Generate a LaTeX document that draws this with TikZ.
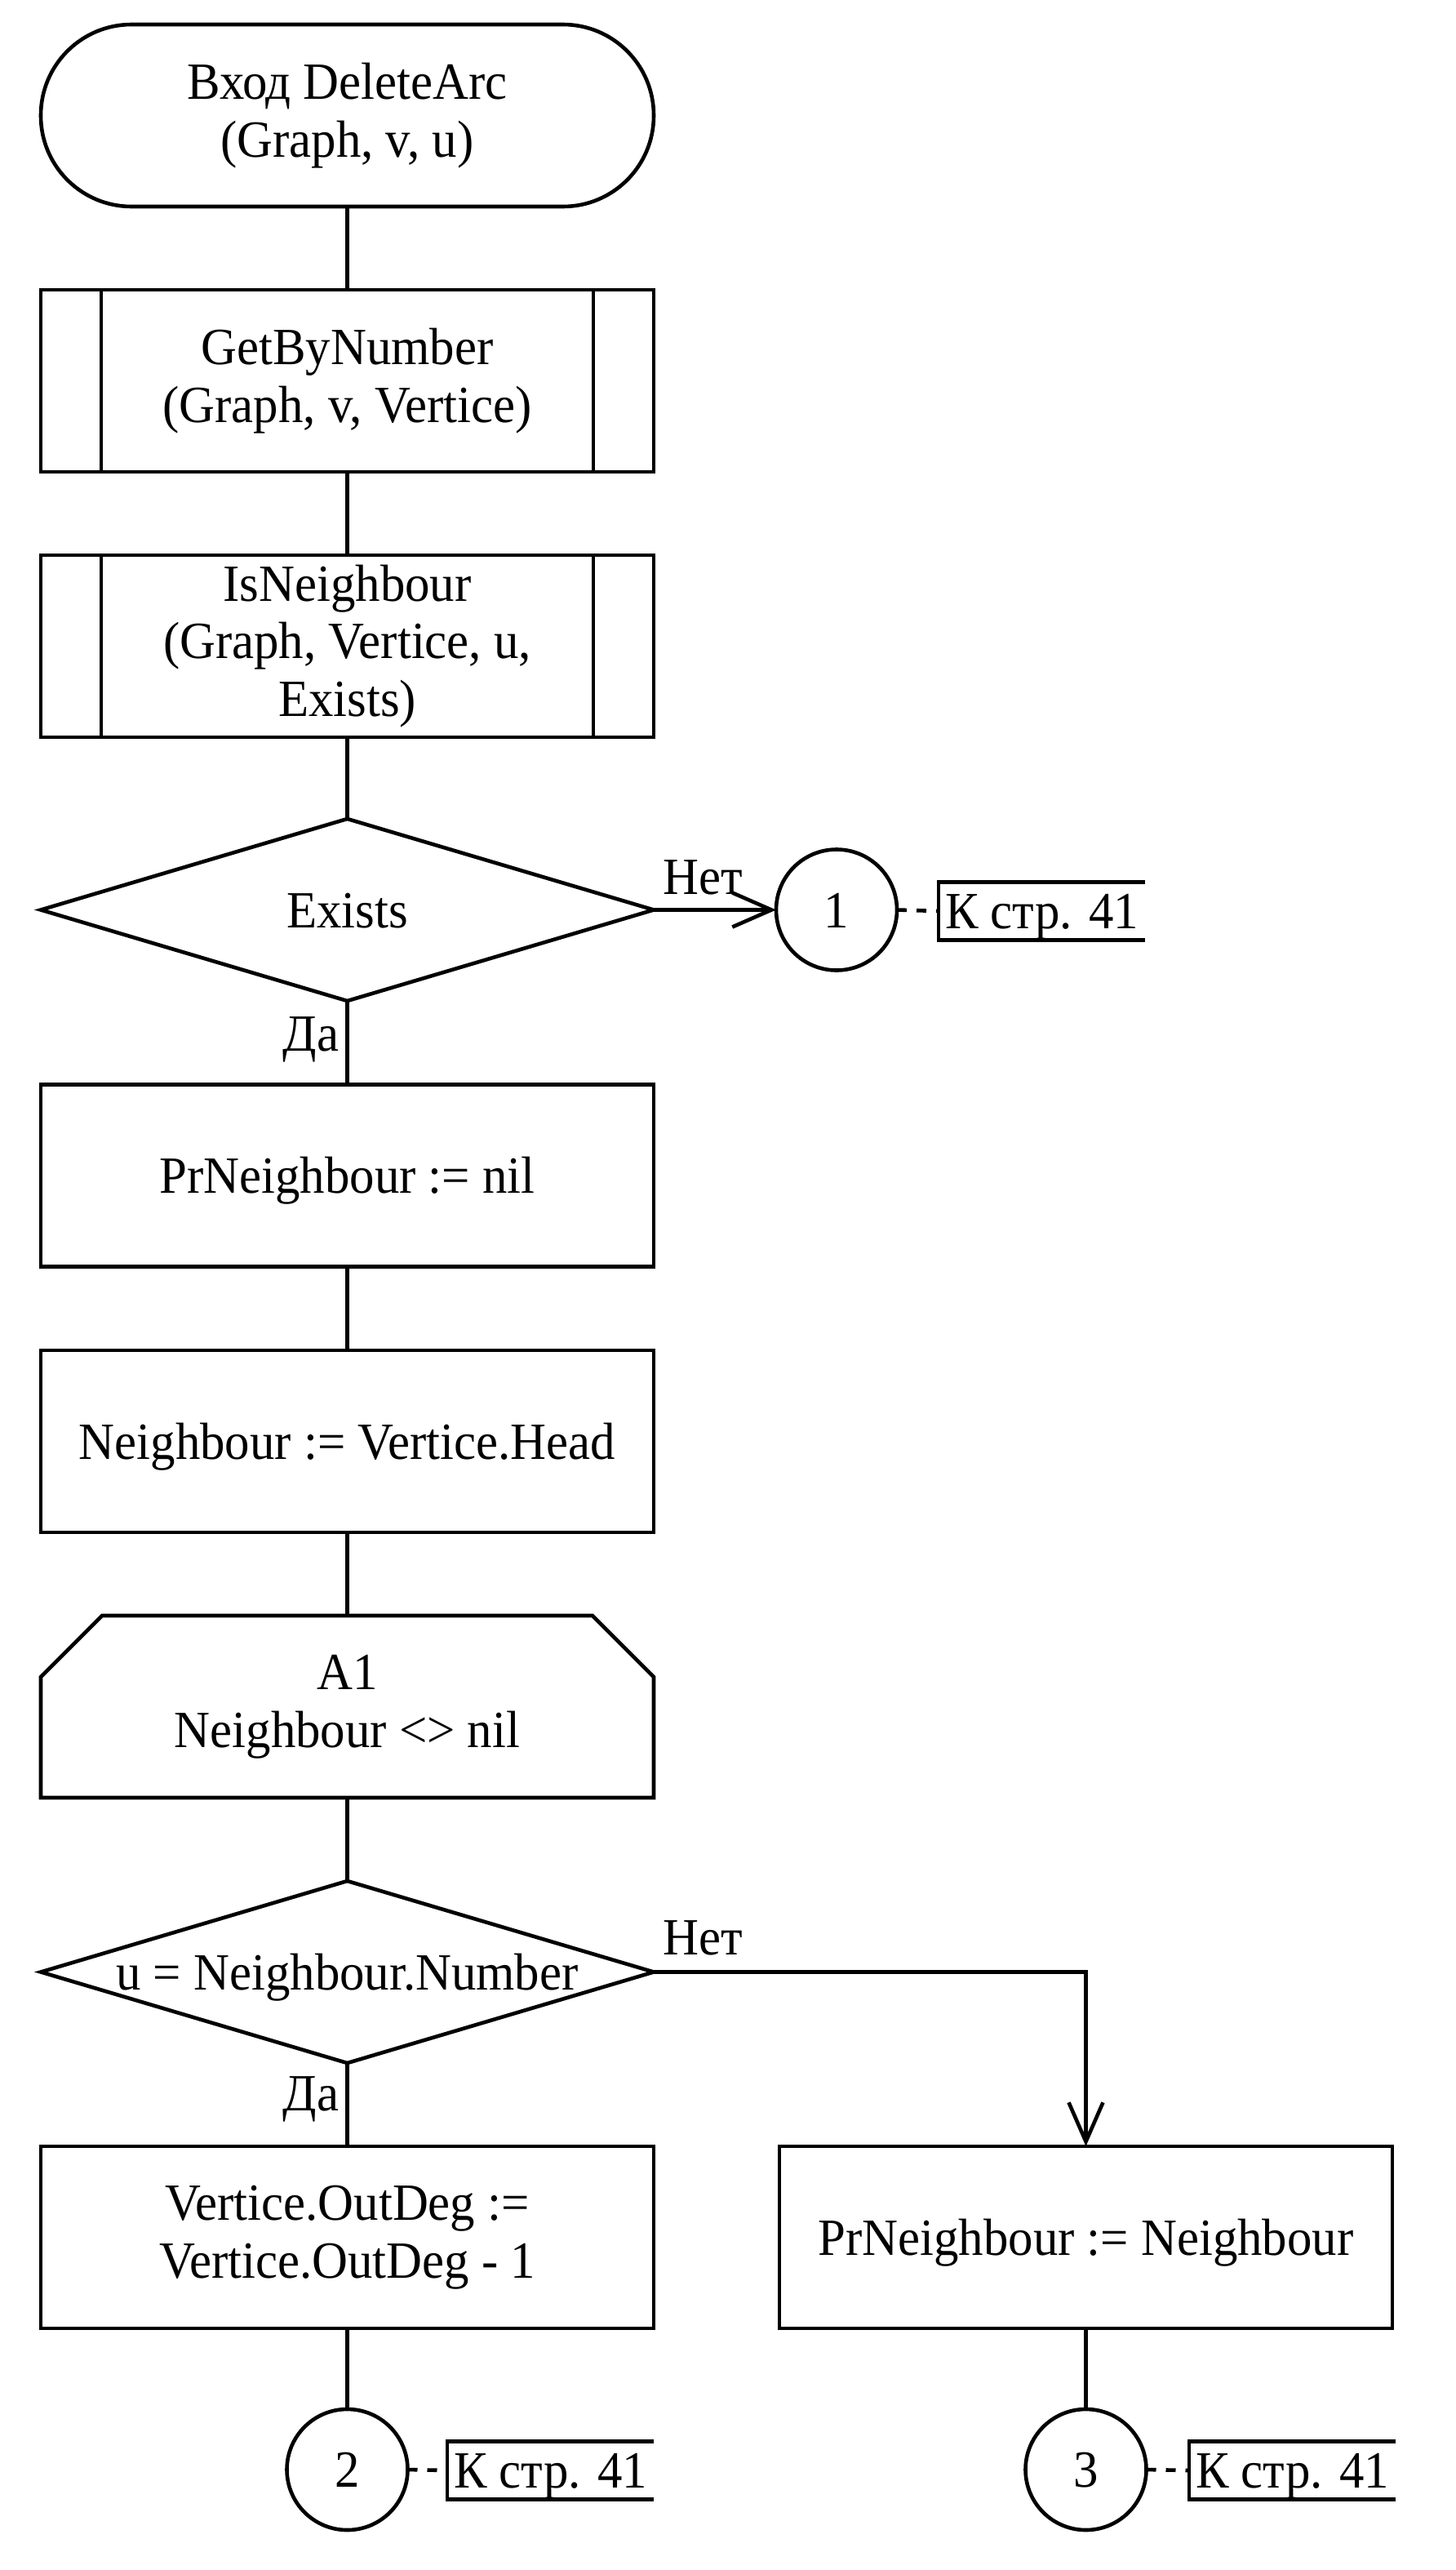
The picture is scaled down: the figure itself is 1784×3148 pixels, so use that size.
\documentclass[tikz,border=0pt]{standalone}
\usepackage{fontspec}
\setmainfont{Liberation Serif}[FakeStretch=0.95]
\usetikzlibrary{shapes.geometric,arrows.meta,calc}
\newcommand\mainsize{\fontsize{16pt}{17.7pt}\selectfont}
\newcommand\mystrut{\rule[-0.216em]{0pt}{1.107em}}
\begin{document}
\begin{tikzpicture}[x=0.25pt,y=-0.25pt,
  every node/.style={font=\mainsize},
  txtstrut/.style={execute at begin node={\mystrut}, execute at end node={\mystrut}},
  blockbase/.style={draw, line width=1.15pt, minimum width=187.75pt, minimum height=55.75pt, inner sep=0pt, outer sep=0pt, align=center, txtstrut},
  term/.style={blockbase, rectangle, rounded corners=27.8pt},
  proc/.style={blockbase, rectangle},
  pproc/.style={proc},
  decision/.style={blockbase, diamond},
  loopbox/.style={proc, draw=none},
  conn/.style={draw, line width=1.15pt, circle, minimum size=37pt, inner sep=0pt, outer sep=0pt, txtstrut},
  note/.style={minimum width=63.25pt, minimum height=17.5pt, inner sep=0pt, outer sep=0pt, txtstrut},
  intext/.style={inner sep=0pt, txtstrut},
  lbl/.style={inner sep=0pt},
  cline/.style={line width=1.15pt},
  arr/.style={cline, -{Straight Barb[length=12pt,width=10.5pt]}},
  commentline/.style={line width=1.15pt, dash pattern=on 3pt off 3pt},
]
\useasboundingbox (0,0) rectangle (1784,3148);

% blocks
\node[term] (start) at (425.5,141.5) {Вход DeleteArc\\(Graph, v, u)};
\node[pproc] (gbn) at (425.5,466.5) {GetByNumber\\(Graph, v, Vertice)};
\node[pproc] (isn) at (425.5,791.5) {IsNeighbour\\(Graph, Vertice, u,\\Exists)};
\node[decision] (ex) at (425.5,1114.5) {};
\node[intext] (ext) at (ex.center) {Exists};
\node[conn] (c1) at (1025,1114.5) {1};
\node[note, anchor=west] (n1) at (1150,1116) {К стр. 41};
\node[proc] (p1) at (425.5,1440) {PrNeighbour := nil};
\node[proc] (p2) at (425.5,1765.5) {Neighbour := Vertice.Head};
\node[loopbox] (lp) at (425.5,2090.5) {A1\\Neighbour <> nil};
\node[decision] (d2) at (425.5,2415.5) {};
\node[intext] (d2t) at (d2.center) {u = Neighbour.Number};
\node[proc] (p3) at (425.5,2740.5) {Vertice.OutDeg :=\\Vertice.OutDeg - 1};
\node[proc] (p4) at (1330.5,2740.5) {PrNeighbour := Neighbour};
\node[conn] (c2) at (425.5,3025) {2};
\node[note, anchor=west] (n2) at (548,3026) {К стр. 41};
\node[conn] (c3) at (1330.5,3025) {3};
\node[note, anchor=west] (n3) at (1457,3026) {К стр. 41};

% predefined process side bars
\draw[cline] ($(gbn.north west)+(74,0)$) -- ($(gbn.south west)+(74,0)$);
\draw[cline] ($(gbn.north east)+(-74,0)$) -- ($(gbn.south east)+(-74,0)$);
\draw[cline] ($(isn.north west)+(74,0)$) -- ($(isn.south west)+(74,0)$);
\draw[cline] ($(isn.north east)+(-74,0)$) -- ($(isn.south east)+(-74,0)$);

% loop start shape
\draw[cline] (lp.south west) -- ($(lp.north west)+(0,75)$) -- ($(lp.north west)+(75,0)$)
  -- ($(lp.north east)+(-75,0)$) -- ($(lp.north east)+(0,75)$) -- (lp.south east) -- cycle;

% comment brackets
\draw[cline] (n1.north east) -- (n1.north west) -- (n1.south west) -- (n1.south east);
\draw[cline] (n2.north east) -- (n2.north west) -- (n2.south west) -- (n2.south east);
\draw[cline] (n3.north east) -- (n3.north west) -- (n3.south west) -- (n3.south east);

% connectors
\draw[cline] (start.south) -- (gbn.north);
\draw[cline] (gbn.south) -- (isn.north);
\draw[cline] (isn.south) -- (ex.north);
\draw[arr] (ex.east) -- (c1.west);
\draw[cline] (ex.south) -- (p1.north);
\draw[cline] (p1.south) -- (p2.north);
\draw[cline] (p2.south) -- (lp.north);
\draw[cline] (lp.south) -- (d2.north);
\draw[arr] (d2.east) -| (p4.north);
\draw[cline] (d2.south) -- (p3.north);
\draw[cline] (p3.south) -- (c2.north);
\draw[cline] (p4.south) -- (c3.north);
\draw[commentline] (c1.east) -- (n1.west);
\draw[commentline] (c2.east) -- (n2.west);
\draw[commentline] (c3.east) -- (n3.west);

% branch labels
\node[lbl, anchor=base west] (no1) at (812,1095) {Нет};
\node[lbl, anchor=base east] (yes1) at (416,1287) {Да};
\node[lbl, anchor=base west] (no2) at (812,2394) {Нет};
\node[lbl, anchor=base east] (yes2) at (416,2585) {Да};
\end{tikzpicture}
\end{document}
